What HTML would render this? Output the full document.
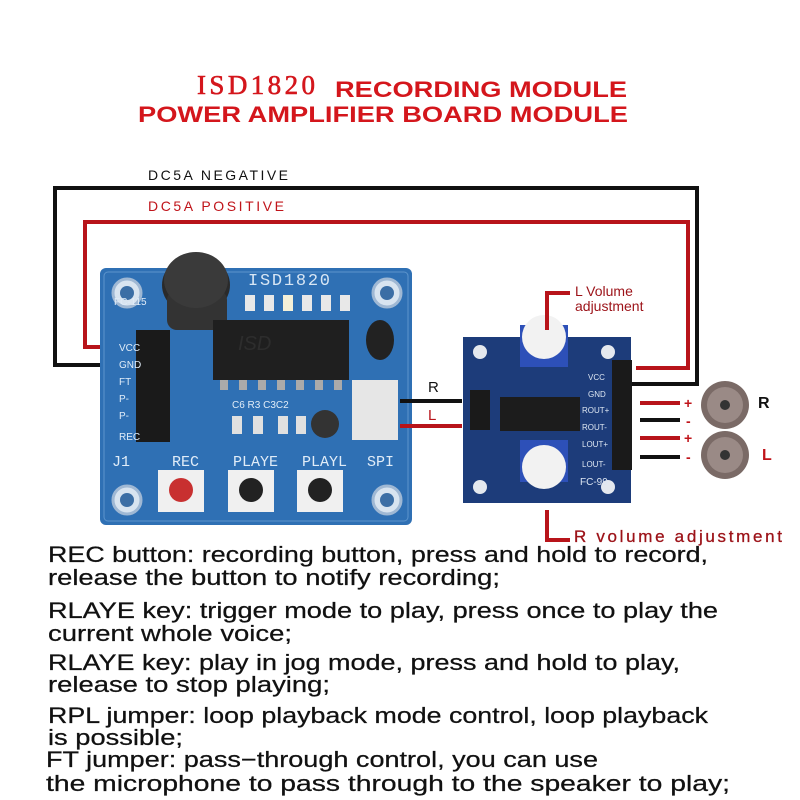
<!DOCTYPE html>
<html><head><meta charset="utf-8"><style>
html,body{margin:0;padding:0;background:#fff;width:800px;height:800px;overflow:hidden}
svg{display:block}
</style></head><body>
<svg width="800" height="800" viewBox="0 0 800 800" xmlns="http://www.w3.org/2000/svg" font-family="Liberation Sans, sans-serif">
<rect width="800" height="800" fill="#fff"/>
<text x="197" y="94" font-family="Liberation Serif, serif" font-size="27" fill="#d4161c" stroke="#d4161c" stroke-width="0.6" textLength="118">ISD1820</text>
<text x="335" y="97" font-size="22" font-weight="bold" fill="#d4161c" textLength="292" lengthAdjust="spacingAndGlyphs">RECORDING MODULE</text>
<text x="138" y="122" font-size="22" font-weight="bold" fill="#d4161c" textLength="490" lengthAdjust="spacingAndGlyphs">POWER AMPLIFIER BOARD MODULE</text>

<text x="148" y="180" font-size="14" fill="#111" textLength="140">DC5A NEGATIVE</text>
<text x="148" y="211" font-size="14" fill="#c0141a" textLength="136">DC5A POSITIVE</text>
<polyline points="130,365 55,365 55,188 697,188 697,384 632,384" fill="none" stroke="#111" stroke-width="4"/>
<polyline points="122,347 85,347 85,222 688,222 688,368 636,368" fill="none" stroke="#b8141a" stroke-width="4"/>

<rect x="100" y="268" width="312" height="257" rx="6" fill="#2f70b4"/>
<rect x="104" y="272" width="304" height="249" rx="4" fill="none" stroke="#5c94cc" stroke-width="1"/>
<g fill="#d8e4f0" stroke="#9fb8d4" stroke-width="3">
<circle cx="127" cy="293" r="14"/><circle cx="387" cy="293" r="14"/>
<circle cx="127" cy="500" r="14"/><circle cx="387" cy="500" r="14"/>
</g>
<g fill="#3b6ea5"><circle cx="127" cy="293" r="7"/><circle cx="387" cy="293" r="7"/><circle cx="127" cy="500" r="7"/><circle cx="387" cy="500" r="7"/></g>
<ellipse cx="196" cy="285" rx="34" ry="30" fill="#2a2a2a"/>
<rect x="167" y="290" width="60" height="40" fill="#333" rx="10"/>
<ellipse cx="196" cy="280" rx="32" ry="28" fill="#3a3a3a"/>
<text x="248" y="285" font-family="Liberation Mono, monospace" font-size="17" fill="#d8e6f4" textLength="82">ISD1820</text>
<g fill="#e8e8e8"><rect x="245" y="295" width="10" height="16"/><rect x="264" y="295" width="10" height="16"/><rect x="283" y="295" width="10" height="16" fill="#f4f0d8"/><rect x="302" y="295" width="10" height="16"/><rect x="321" y="295" width="10" height="16"/><rect x="340" y="295" width="10" height="16"/></g>
<rect x="213" y="320" width="136" height="60" fill="#1f1f1f"/>
<g fill="#aaa"><rect x="220" y="380" width="8" height="10"/><rect x="239" y="380" width="8" height="10"/><rect x="258" y="380" width="8" height="10"/><rect x="277" y="380" width="8" height="10"/><rect x="296" y="380" width="8" height="10"/><rect x="315" y="380" width="8" height="10"/><rect x="334" y="380" width="8" height="10"/></g>
<text x="238" y="350" font-size="20" font-style="italic" fill="#2d2d2d">ISD</text>
<ellipse cx="380" cy="340" rx="14" ry="20" fill="#222"/>
<rect x="352" y="380" width="46" height="60" fill="#e6e6e6"/>
<rect x="136" y="330" width="34" height="112" fill="#1a1a1a"/>
<g font-size="10" fill="#e0ecf8">
<text x="114" y="305">FC-115</text>
<text x="119" y="351">VCC</text><text x="119" y="368">GND</text><text x="119" y="385">FT</text><text x="119" y="402">P-</text><text x="119" y="419">P-</text><text x="119" y="440">REC</text>
<text x="232" y="408">C6 R3 C3C2</text>
</g>
<g fill="#e0e0e0"><rect x="232" y="416" width="10" height="18"/><rect x="253" y="416" width="10" height="18"/><rect x="278" y="416" width="10" height="18"/><rect x="296" y="416" width="10" height="18"/></g>
<circle cx="325" cy="424" r="14" fill="#333"/>
<g font-size="15" font-family="Liberation Mono, monospace" fill="#e0ecf8">
<text x="112" y="466">J1</text><text x="172" y="466">REC</text><text x="233" y="466">PLAYE</text><text x="302" y="466">PLAYL</text><text x="367" y="466">SPI</text>
</g>
<g fill="#f0f0f0"><rect x="158" y="470" width="46" height="42"/><rect x="228" y="470" width="46" height="42"/><rect x="297" y="470" width="46" height="42"/></g>
<circle cx="181" cy="490" r="12" fill="#c83030"/><circle cx="251" cy="490" r="12" fill="#222"/><circle cx="320" cy="490" r="12" fill="#222"/>

<line x1="400" y1="401" x2="462" y2="401" stroke="#111" stroke-width="4"/>
<line x1="400" y1="426" x2="462" y2="426" stroke="#b8141a" stroke-width="4"/>
<text x="428" y="392" font-size="15" fill="#111">R</text>
<text x="428" y="420" font-size="15" fill="#b8141a">L</text>

<rect x="463" y="337" width="168" height="166" fill="#1d3c7a"/>
<g fill="#e4e8ee"><circle cx="480" cy="352" r="7"/><circle cx="608" cy="352" r="7"/><circle cx="480" cy="487" r="7"/><circle cx="608" cy="487" r="7"/></g>
<rect x="470" y="390" width="20" height="40" fill="#1a1a1a"/>
<rect x="500" y="397" width="80" height="34" fill="#1c1c1c"/>
<rect x="520" y="325" width="48" height="42" fill="#2d50b8"/>
<circle cx="544" cy="337" r="22" fill="#f2f2f2"/>
<rect x="520" y="440" width="48" height="42" fill="#2d50b8"/>
<circle cx="544" cy="467" r="22" fill="#f2f2f2"/>
<rect x="612" y="360" width="20" height="110" fill="#1a1a1a"/>
<g font-size="8" fill="#dde6f2"><text x="588" y="380">VCC</text><text x="588" y="397">GND</text><text x="582" y="413">ROUT+</text><text x="582" y="430">ROUT-</text><text x="582" y="447">LOUT+</text><text x="582" y="467">LOUT-</text><text x="580" y="485" font-size="10">FC-99</text></g>

<polyline points="547,330 547,293 570,293" fill="none" stroke="#b8141a" stroke-width="4"/>
<text x="575" y="296" font-size="14" fill="#9c1218">L Volume</text>
<text x="575" y="311" font-size="14" fill="#9c1218">adjustment</text>
<polyline points="547,510 547,540 570,540" fill="none" stroke="#b8141a" stroke-width="4"/>
<text x="574" y="542" font-size="17" fill="#9c1218" stroke="#9c1218" stroke-width="0.3" textLength="208">R volume adjustment</text>

<line x1="640" y1="403" x2="680" y2="403" stroke="#b8141a" stroke-width="4"/>
<line x1="640" y1="420" x2="680" y2="420" stroke="#111" stroke-width="4"/>
<line x1="640" y1="438" x2="680" y2="438" stroke="#b8141a" stroke-width="4"/>
<line x1="640" y1="457" x2="680" y2="457" stroke="#111" stroke-width="4"/>
<g font-size="14" font-weight="bold" fill="#c0141a"><text x="684" y="408">+</text><text x="686" y="426">-</text><text x="684" y="443">+</text><text x="686" y="462">-</text></g>
<g>
<circle cx="725" cy="405" r="24" fill="#7a6a66"/><circle cx="725" cy="405" r="18" fill="#9a8a86"/><circle cx="725" cy="405" r="5" fill="#333"/>
<circle cx="725" cy="455" r="24" fill="#7a6a66"/><circle cx="725" cy="455" r="18" fill="#9a8a86"/><circle cx="725" cy="455" r="5" fill="#333"/>
</g>
<text x="758" y="408" font-size="16" font-weight="bold" fill="#111">R</text>
<text x="762" y="460" font-size="16" font-weight="bold" fill="#c0141a">L</text>

<g font-size="22" fill="#111" stroke="#111" stroke-width="0.25">
<text x="48" y="562" textLength="660" lengthAdjust="spacingAndGlyphs">REC button: recording button, press and hold to record,</text>
<text x="48" y="585" textLength="452" lengthAdjust="spacingAndGlyphs">release the button to notify recording;</text>
<text x="48" y="618" textLength="670" lengthAdjust="spacingAndGlyphs">RLAYE key: trigger mode to play, press once to play the</text>
<text x="48" y="641" textLength="244" lengthAdjust="spacingAndGlyphs">current whole voice;</text>
<text x="48" y="670" textLength="632" lengthAdjust="spacingAndGlyphs">RLAYE key: play in jog mode, press and hold to play,</text>
<text x="48" y="692" textLength="282" lengthAdjust="spacingAndGlyphs">release to stop playing;</text>
<text x="48" y="723" textLength="660" lengthAdjust="spacingAndGlyphs">RPL jumper: loop playback mode control, loop playback</text>
<text x="48" y="745" textLength="135" lengthAdjust="spacingAndGlyphs">is possible;</text>
<text x="46" y="767" textLength="552" lengthAdjust="spacingAndGlyphs">FT jumper: pass−through control, you can use</text>
<text x="46" y="791" textLength="684" lengthAdjust="spacingAndGlyphs">the microphone to pass through to the speaker to play;</text>
</g>
</svg>
</body></html>
